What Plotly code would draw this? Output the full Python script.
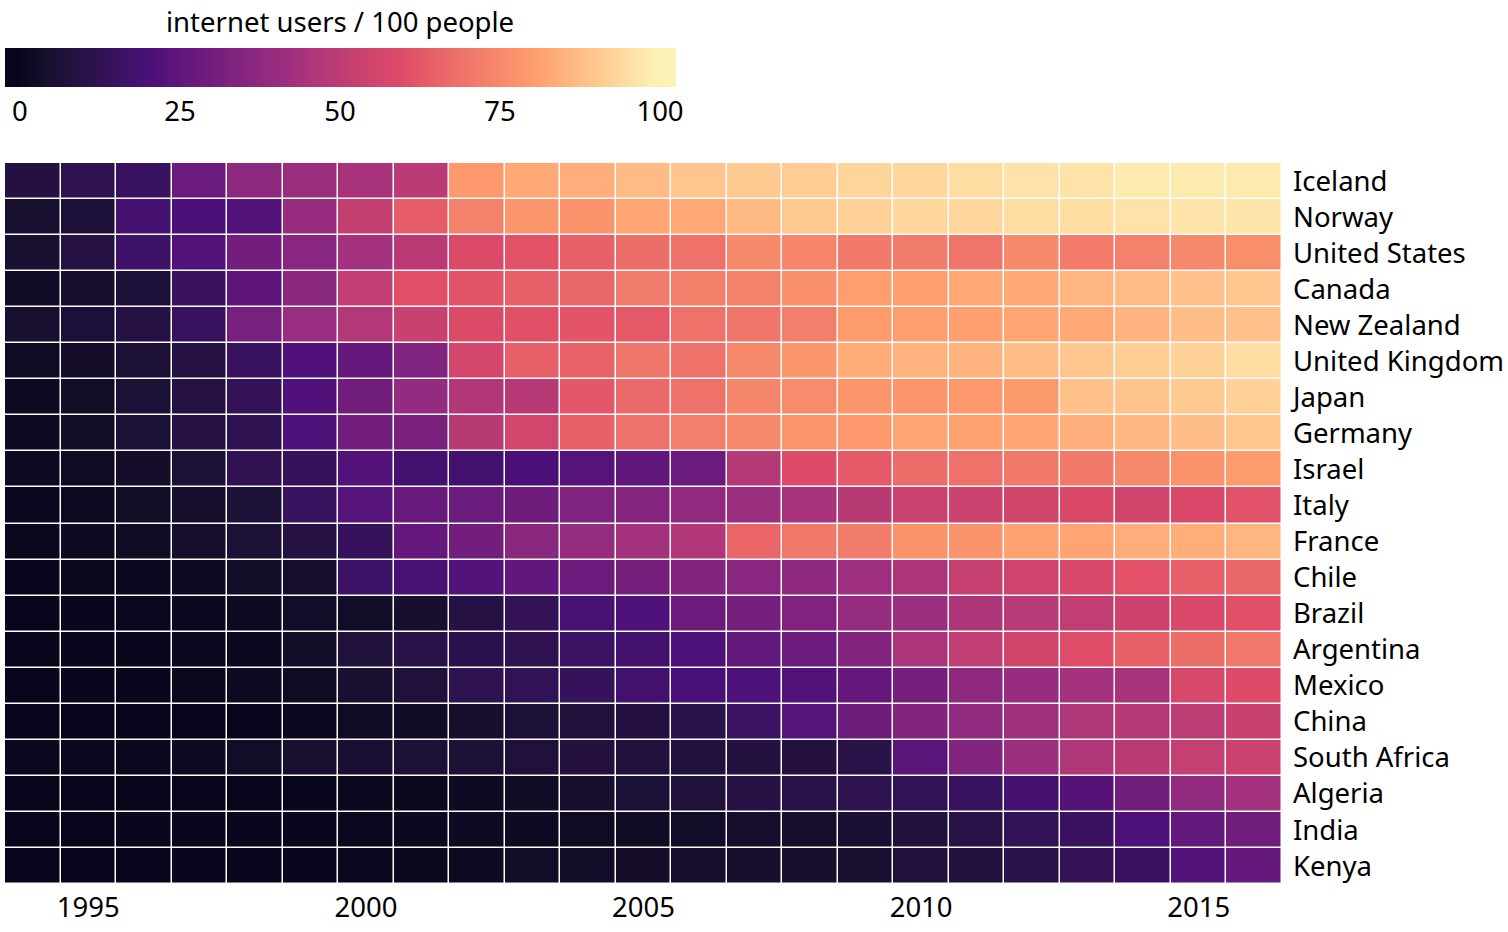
import plotly.graph_objects as go

years = list(range(1994, 2017))
countries = ["Iceland", "Norway", "United States", "Canada", "New Zealand",
             "United Kingdom", "Japan", "Germany", "Israel", "Italy", "France",
             "Chile", "Brazil", "Argentina", "Mexico", "China", "South Africa",
             "Algeria", "India", "Kenya"]

iceland = [8.5, 12, 14.7, 28, 37, 40.4, 44.5, 49.4, 79.1, 83.1, 83.9, 87, 89.5, 90.6, 91, 93, 93.4, 94.8, 96.2, 96.5, 98.2, 98.2, 98.2]
norway = [5, 6.5, 18.2, 20.5, 22, 40, 52, 63.5, 72.8, 78.1, 77.7, 82, 82.6, 86.9, 90.6, 92.1, 93.4, 93.5, 94.7, 95.1, 96.3, 96.8, 97.3]
united_states = [4.9, 9.2, 16.4, 21.6, 30.1, 35.8, 43.1, 49.1, 58.8, 61.7, 64.8, 68, 69, 75, 74, 71, 71.7, 69.7, 74.7, 71.4, 73, 74.6, 76.2]
canada = [2.4, 4.2, 6.8, 15.1, 24.9, 36.2, 51.3, 60.2, 61.6, 64.2, 66, 71.7, 72.4, 73.2, 76.7, 80.3, 80.3, 83, 83, 85.8, 87.1, 88.5, 89.8]
new_zealand = [5, 6.5, 9, 14.7, 31.6, 40.3, 47.4, 53.2, 59.1, 60.9, 61.8, 62.7, 69, 69.8, 72, 79.7, 80.5, 81, 82, 83, 85.5, 87.5, 88.5]
united_kingdom = [1.9, 3.5, 6, 9.3, 14.7, 21.3, 26.8, 33.5, 56.5, 64.8, 65.6, 70, 68.8, 75.1, 78.4, 83.6, 85, 85.4, 87.5, 89.8, 91.6, 92, 94.8]
japan = [1.6, 2.7, 5.8, 9.3, 13.1, 21.4, 29.6, 38.5, 46.6, 48.4, 62.4, 66.9, 68.7, 74.3, 75.4, 78, 78.2, 79.1, 79.5, 88.2, 89.1, 90.6, 92]
germany = [1.6, 2.7, 5.8, 9, 11.4, 20.8, 30.2, 31.7, 48.8, 55.9, 64.7, 68.7, 72.2, 75.2, 78, 79, 82, 81.3, 82.3, 84.2, 86.2, 87.6, 89.6]
israel = [1.6, 1.9, 3.5, 5.8, 12.3, 13.9, 22, 18, 17.9, 19.9, 22.8, 25.2, 28, 48.1, 59.4, 63.1, 67.5, 68.9, 70.8, 70.8, 75, 77.4, 79.7]
italy = [0.3, 1.2, 2.7, 4.3, 6.6, 15, 23.1, 27.2, 28, 29, 33.2, 35, 38, 40.8, 44.5, 48.8, 53.7, 54.4, 55.8, 58.5, 55.6, 58.1, 61.3]
france = [0.6, 1.6, 2.4, 4.3, 6.3, 9.1, 14.3, 26.3, 30.2, 36.1, 39.2, 42.9, 46.9, 66.1, 70.7, 71.6, 77.3, 77.8, 81.4, 81.9, 83.8, 84, 85.6]
chile = [0.2, 0.6, 0.9, 1.7, 3.4, 4.3, 16.6, 19.1, 22.1, 25.5, 28.2, 31.2, 34.5, 35.9, 37.3, 41.6, 45, 52.3, 55.1, 58, 61.1, 64.3, 66]
brazil = [0, 0.1, 0.5, 0.8, 1.5, 2.9, 2.9, 4.5, 9.1, 13.2, 19.1, 21, 28.2, 30.9, 33.8, 39.2, 40.7, 45.7, 48.6, 51, 54.6, 58.3, 60.9]
argentina = [0, 0.1, 0.1, 0.3, 0.8, 3.3, 7, 9.8, 10.9, 11.9, 16, 17.7, 20.9, 25.9, 28.1, 34, 45, 51, 55.8, 59.9, 64.7, 68, 70.2]
mexico = [0, 0.1, 0.2, 0.6, 1.3, 1.9, 5.1, 7.4, 11.9, 12.9, 14.1, 17.2, 19.5, 20.8, 21.7, 26.3, 31.1, 37.2, 39.8, 43.5, 44.4, 57.4, 59.5]
china = [0, 0, 0, 0, 0.2, 0.7, 1.8, 2.6, 4.6, 6.2, 7.3, 8.5, 10.5, 16, 22.6, 28.9, 34.3, 38.3, 42.3, 45.8, 47.9, 50.3, 53.2]
south_africa = [0.3, 0.7, 0.9, 1.7, 3, 5, 5.3, 6.3, 6.7, 7, 8.4, 7.5, 7.6, 8.1, 8.4, 10, 24, 34, 41, 46.5, 49, 51.9, 54]
algeria = [0, 0, 0, 0, 0, 0.2, 0.5, 0.6, 1.6, 2.2, 4.6, 5.8, 7.4, 9.5, 10.2, 11.2, 12.5, 14.9, 18.2, 22.5, 29.5, 38.2, 42.9]
india = [0, 0, 0.05, 0.07, 0.14, 0.27, 0.53, 0.66, 1.54, 1.69, 1.98, 2.39, 2.81, 3.95, 4.38, 5.12, 7.5, 10.07, 12.58, 15.1, 21, 26, 29.5]
kenya = [0, 0, 0, 0.1, 0.1, 0.2, 0.3, 0.6, 1.2, 2.9, 3, 3.1, 4, 4.5, 4.5, 5.1, 7.2, 7.8, 10.5, 13, 15.5, 21.5, 26.5]

z = [iceland, norway, united_states, canada, new_zealand, united_kingdom, japan,
     germany, israel, italy, france, chile, brazil, argentina, mexico, china,
     south_africa, algeria, india, kenya]

colorbar_ticks = [0, 25, 50, 75, 100]

# six magma colours (option A, begin 0.05, end 0.98), blended in Lab space
anchors = ["#07061c", "#4a1079", "#982d80", "#e04c67", "#fe9c6c", "#fcf2b5"]


def hex2rgb(h):
    h = h.lstrip("#")
    return [int(h[i:i + 2], 16) / 255 for i in (0, 2, 4)]


def srgb_to_lin(c):
    return c / 12.92 if c <= 0.04045 else ((c + 0.055) / 1.055) ** 2.4


def lin_to_srgb(c):
    c = min(max(c, 0.0), 1.0)
    return 12.92 * c if c <= 0.0031308 else 1.055 * c ** (1 / 2.4) - 0.055


WX, WY, WZ = 0.95047, 1.0, 1.08883


def rgb_to_lab(rgb):
    r, g, b = [srgb_to_lin(c) for c in rgb]
    x = (0.4124 * r + 0.3576 * g + 0.1805 * b) / WX
    y = (0.2126 * r + 0.7152 * g + 0.0722 * b) / WY
    zz = (0.0193 * r + 0.1192 * g + 0.9505 * b) / WZ

    def f(t):
        return t ** (1 / 3) if t > 0.008856 else 7.787 * t + 16 / 116
    fx, fy, fz = f(x), f(y), f(zz)
    return [116 * fy - 16, 500 * (fx - fy), 200 * (fy - fz)]


def lab_to_rgb(lab):
    L, a, b = lab
    fy = (L + 16) / 116
    fx = fy + a / 500
    fz = fy - b / 200

    def finv(t):
        return t ** 3 if t ** 3 > 0.008856 else (t - 16 / 116) / 7.787
    x, y, zz = finv(fx) * WX, finv(fy) * WY, finv(fz) * WZ
    r = 3.2406 * x - 1.5372 * y - 0.4986 * zz
    g = -0.9689 * x + 1.8758 * y + 0.0415 * zz
    bb = 0.0557 * x - 0.2040 * y + 1.0570 * zz
    return [round(255 * lin_to_srgb(c)) for c in (r, g, bb)]


anchor_labs = [rgb_to_lab(hex2rgb(h)) for h in anchors]


def scale_at(t):
    t = min(max(t, 0.0), 1.0)
    pos = t * (len(anchors) - 1)
    i = min(int(pos), len(anchors) - 2)
    f = pos - i
    a, b = anchor_labs[i], anchor_labs[i + 1]
    lab = [a[k] + (b[k] - a[k]) * f for k in range(3)]
    return "rgb(%d,%d,%d)" % tuple(lab_to_rgb(lab))


zmin, zmax = -2.34, 102.5
nstops = 100
colorscale = []
for k in range(nstops + 1):
    t = k / nstops
    v = zmin + (zmax - zmin) * t
    colorscale.append([t, scale_at(v / 100)])

FONT = "Noto Sans, Open Sans, sans-serif"
FS = 27.5

fig = go.Figure(go.Heatmap(
    z=z, x=years, y=countries,
    colorscale=colorscale, zmin=zmin, zmax=zmax,
    xgap=1.5, ygap=1.5,
    colorbar=dict(
        orientation="h",
        x=0, xanchor="left", xpad=0,
        y=(883 - 124) / 720, yanchor="bottom", ypad=0,
        len=671, lenmode="pixels",
        thickness=39, thicknessmode="pixels",
        outlinewidth=0, ticks="",
        tickvals=colorbar_ticks,
        tickfont=dict(size=FS, color="black", family=FONT),
    ),
    hovertemplate="%{y} %{x}: %{z}<extra></extra>",
))

fig.add_annotation(
    text="internet users / 100 people", xref="paper", yref="paper",
    x=(340 - 5) / 1277, y=(883 - 22) / 720, xanchor="center", yanchor="middle",
    showarrow=False, font=dict(size=FS, color="black", family=FONT),
)

fig.update_layout(
    width=1508, height=932,
    margin=dict(l=5, r=226, t=163, b=48, autoexpand=False),
    plot_bgcolor="white", paper_bgcolor="white",
    font=dict(family=FONT, size=FS, color="black"),
    xaxis=dict(tickvals=[1995, 2000, 2005, 2010, 2015], ticks="", showgrid=False,
               zeroline=False, showline=False, ticklabelstandoff=4, automargin=False),
    yaxis=dict(side="right", autorange="reversed", ticks="", showgrid=False,
               zeroline=False, showline=False, ticklabelstandoff=10, automargin=False),
)

fig.write_html("out.html", config={"displayModeBar": False},
               post_script="document.body.style.margin='0';")
